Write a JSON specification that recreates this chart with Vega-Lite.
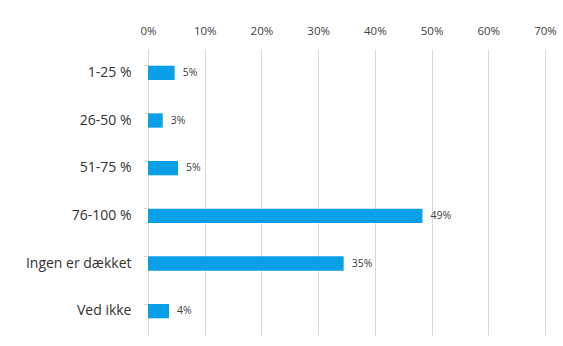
{
  "$schema": "https://vega.github.io/schema/vega-lite/v6.json",
  "width": 397,
  "height": 286,
  "autosize": {"type": "none"},
  "padding": {"left": 148, "top": 49, "right": 18, "bottom": 11},
  "background": "white",
  "config": {"view": {"stroke": null}, "font": "Open Sans"},
  "data": {
    "values": [
      {"cat": "1-25 %", "value": 0.047, "label": "5%"},
      {"cat": "26-50 %", "value": 0.026, "label": "3%"},
      {"cat": "51-75 %", "value": 0.053, "label": "5%"},
      {"cat": "76-100 %", "value": 0.484, "label": "49%"},
      {"cat": "Ingen er dækket", "value": 0.345, "label": "35%"},
      {"cat": "Ved ikke", "value": 0.037, "label": "4%"}
    ]
  },
  "encoding": {
    "y": {
      "field": "cat", "type": "nominal", "sort": null, "title": null,
      "scale": {"paddingInner": 0.7, "paddingOuter": 0.35},
      "axis": {
        "bandPosition": 0, "domainColor": "#d9d9d9", "tickColor": "#d9d9d9",
        "tickSize": 5, "labelPadding": 12, "labelFontSize": 14,
        "labelColor": "#333333", "labelFont": "Open Sans", "grid": false
      }
    },
    "x": {
      "field": "value", "type": "quantitative", "title": null,
      "scale": {"domain": [0, 0.7], "nice": false},
      "axis": {
        "orient": "top", "format": ".0%", "values": [0, 0.1, 0.2, 0.3, 0.4, 0.5, 0.6, 0.7],
        "domain": false, "ticks": false, "labelPadding": 13, "labelFontSize": 11.5,
        "labelColor": "#404040", "gridColor": "#d9d9d9", "labelFlush": false
      }
    }
  },
  "layer": [
    {"mark": {"type": "bar", "color": "#0AA0E8"}},
    {
      "mark": {"type": "text", "align": "left", "baseline": "middle", "dx": 8, "fontSize": 10.5, "color": "#404040"},
      "encoding": {"text": {"field": "label"}}
    }
  ]
}
